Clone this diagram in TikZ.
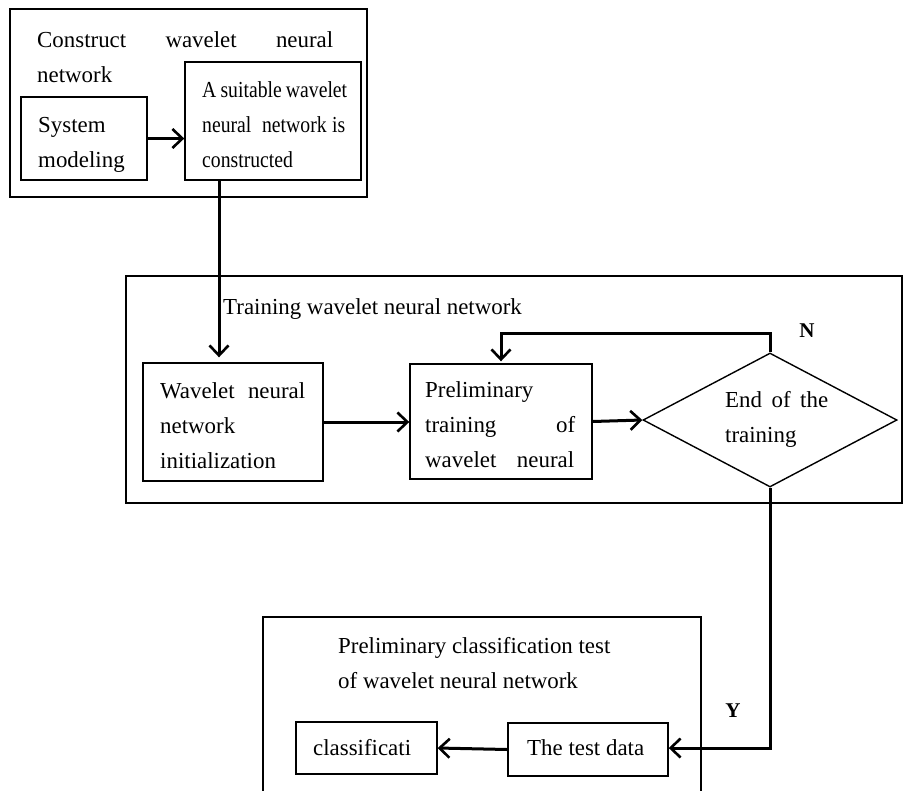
\documentclass[tikz,border=0pt]{standalone}
\usepackage{fontspec}
\setmainfont{Liberation Serif}
\newfontfamily\condfont[FakeStretch=0.86]{Liberation Serif}
\usetikzlibrary{arrows.meta,shapes.geometric}
\tikzset{
  x=1pt,y=-1pt,
  box/.style={draw,line width=1.4pt,inner sep=0pt,rectangle},
  frame/.style={draw,line width=1.3pt,inner sep=0pt,rectangle},
  txt/.style={anchor=base west,inner sep=0pt,font=\fontsize{22.9}{35}\selectfont},
  lbl/.style={anchor=base,inner sep=0pt,font=\fontsize{21}{25}\selectfont\bfseries},
  arr/.style={line width=3pt,-{Straight Barb[length=10pt,width=19pt,line width=2.6pt]}},
}
\begin{document}
\begin{tikzpicture}
\useasboundingbox[fill=white] (0,0) rectangle (904,790);
\clip (0,0) rectangle (904,790);
% frames
\node[frame,minimum width=357pt,minimum height=188pt] (f1) at (188.5,103) {};
\node[frame,minimum width=776pt,minimum height=227pt] (f2) at (514,389.5) {};
\node[frame,minimum width=438pt,minimum height=180pt] (f3) at (482,707) {};
% boxes
\node[box,minimum width=126pt,minimum height=83pt] (sys) at (84,138.5) {};
\node[box,minimum width=176pt,minimum height=118pt] (suit) at (273,121) {};
\node[box,minimum width=180pt,minimum height=118pt] (init) at (233,422) {};
\node[box,minimum width=182pt,minimum height=115pt] (prel) at (501,421.5) {};
\node[draw,line width=1.4pt,diamond,inner sep=0pt,minimum width=254pt,minimum height=134pt] (dia) at (770,420) {};
\node[box,minimum width=141pt,minimum height=52pt] (cls) at (366.5,748) {};
\node[box,minimum width=160pt,minimum height=53pt] (test) at (588,749.5) {};
% texts
\node[txt] (t1) at (37,47) {\parbox[t]{296pt}{\makebox[296pt][s]{Construct wavelet neural}\\network}};
\node[txt] (tsys) at (38,132) {\parbox[t]{100pt}{System\\modeling}};
\node[txt] (tsuit) at (202,97) {\parbox[t]{145pt}{\condfont A suitable wavelet\\\makebox[143pt][s]{neural\ \ network is}\\constructed}};
\node[txt] (t2) at (223,314) {Training wavelet neural network};
\node[txt] (tinit) at (160,398) {\parbox[t]{150pt}{\makebox[145pt][s]{Wavelet neural}\\network\\initialization}};
\node[txt] (tprel) at (425,397) {\parbox[t]{150pt}{Preliminary\\\makebox[150pt][s]{training of}\\\makebox[149pt][s]{wavelet neural}}};
\node[txt] (tdia) at (725,407) {\parbox[t]{110pt}{\makebox[103pt][s]{End of the}\\training}};
\node[txt] (t3) at (338,653) {\parbox[t]{300pt}{Preliminary classification test\\of wavelet neural network}};
\node[txt] (tcls) at (313,755) {classificati};
\node[txt] (ttest) at (527,755) {The test data};
\node[lbl] (N) at (807,337) {N};
\node[lbl] (Y) at (733,717) {Y};
% connectors
\coordinate (vx) at (219,0);
\coordinate (hy) at (0,333);
\coordinate (dy) at (0,748);
\draw[arr] (sys.east) -- (suit.west |- sys.east);
\draw[arr,shorten >=5pt] (suit.south -| vx) -- (init.north -| vx);
\draw[arr] (init.east) -- (prel.west |- init.east);
\draw[arr] (prel.east) -- (dia.west);
\draw[arr,shorten >=2pt] (dia.north) -- (dia.north |- hy) -| (prel.north);
\draw[arr] (dia.south) -- (dia.south |- dy) -- (test.east |- dy);
\draw[arr] (test.west) -- (cls.east);
\end{tikzpicture}
\end{document}
